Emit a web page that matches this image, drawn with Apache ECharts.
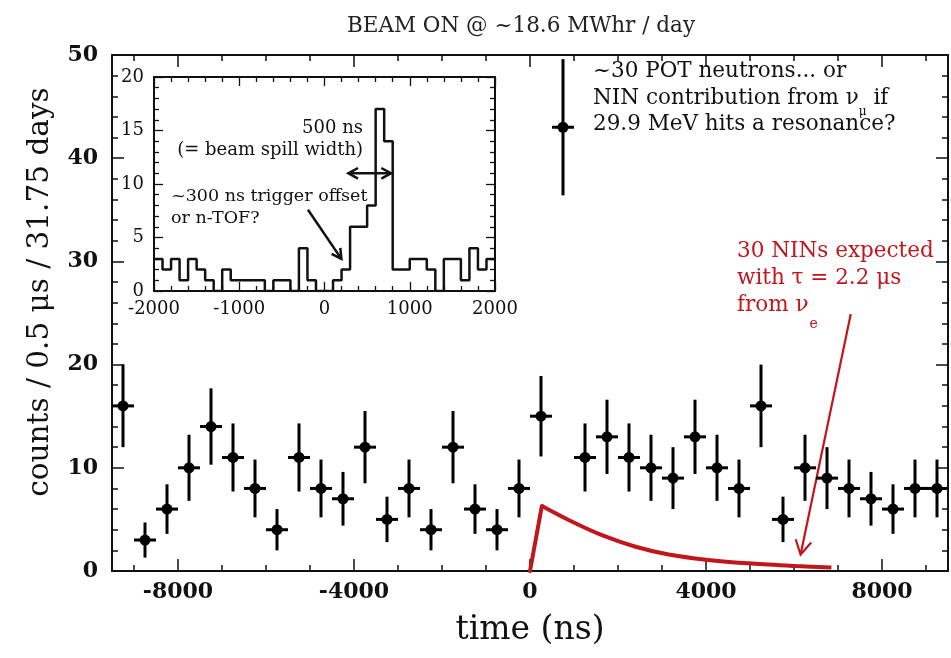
<!DOCTYPE html>
<html><head><meta charset="utf-8">
<script src="https://cdn.jsdelivr.net/npm/echarts@6/dist/echarts.min.js"></script>
<style>html,body{margin:0;padding:0;background:#fff}#c{width:951px;height:658px}</style>
</head><body><div id="c"></div>
<script>
// ---- main histogram (0.5 us bins) ----
const binCenters = [-9250,-8750,-8250,-7750,-7250,-6750,-6250,-5750,-5250,-4750,-4250,-3750,-3250,-2750,-2250,-1750,-1250,-750,-250,250,750,1250,1750,2250,2750,3250,3750,4250,4750,5250,5750,6250,6750,7250,7750,8250,8750,9250];
const counts     = [16,3,6,10,14,11,8,4,11,8,7,12,5,8,4,12,6,4,8,15,43,11,13,11,10,9,13,10,8,16,5,10,9,8,7,6,8,8];
const errors     = [4.0,1.7,2.4,3.2,3.7,3.3,2.8,2.0,3.3,2.8,2.6,3.5,2.2,2.8,2.0,3.5,2.4,2.0,2.8,3.9,6.6,3.3,3.6,3.3,3.2,3.0,3.6,3.2,2.8,4.0,2.2,3.2,3.0,2.8,2.6,2.4,2.8,2.8];
const binHalfWidth = 250;
// ---- expected NIN curve ----
const curveT = [0,270,900,1650,2400,3150,4000,5050,6050,6850];
const curveY = [0,6.3,4.9,3.45,2.35,1.6,1.1,0.72,0.48,0.33];
// ---- inset histogram (100 ns bins) ----
const insetBinStarts = [-2000,-1900,-1800,-1700,-1600,-1500,-1400,-1300,-1200,-1100,-1000,-900,-800,-700,-600,-500,-400,-300,-200,-100,0,100,200,300,400,500,600,700,800,900,1000,1100,1200,1300,1400,1500,1600,1700,1800,1900];
const insetCounts    = [3,2,3,1,3,2,1,0,2,1,1,1,1,0,1,1,0,4,1,0,0,1,2,6,6,8,17,14,2,2,3,3,2,0,3,3,1,4,2,3];
const insetEnd = 2000;
// ---- tick values ----
const mainXMajor = [-8000,-4000,0,4000,8000];
const mainXMinor = [-9000,-8000,-7000,-6000,-5000,-4000,-3000,-2000,-1000,0,1000,2000,3000,4000,5000,6000,7000,8000,9000];

const F = 'DejaVu Serif';
const K = '#111';
const RED = '#c0161c';

function xAx(o){return Object.assign({type:'value',gridIndex:0,position:'bottom',min:-9500,max:9500,
  axisLine:{show:true,onZero:false,lineStyle:{color:K,width:2}},
  axisTick:{show:true,inside:true,length:12,customValues:mainXMajor,lineStyle:{color:K,width:1.5}},
  axisLabel:{show:false},splitLine:{show:false}},o);}
function yAx(o){return Object.assign({type:'value',gridIndex:0,position:'left',min:0,max:50,interval:10,
  axisLine:{show:true,onZero:false,lineStyle:{color:K,width:2}},
  axisTick:{show:true,inside:true,length:12,lineStyle:{color:K,width:1.5}},
  minorTick:{show:true,splitNumber:5,length:6,lineStyle:{color:K,width:1.5}},
  axisLabel:{show:false},splitLine:{show:false},minorSplitLine:{show:false}},o);}
function ixAx(o){return Object.assign({type:'value',gridIndex:1,position:'bottom',min:-2000,max:2000,interval:1000,
  axisLine:{show:true,onZero:false,lineStyle:{color:K,width:2}},
  axisTick:{show:true,inside:true,length:9,lineStyle:{color:K,width:1.3}},
  minorTick:{show:true,splitNumber:5,length:5,lineStyle:{color:K,width:1.3}},
  axisLabel:{show:false},splitLine:{show:false},minorSplitLine:{show:false}},o);}
function iyAx(o){return Object.assign({type:'value',gridIndex:1,position:'left',min:0,max:20,interval:5,
  axisLine:{show:true,onZero:false,lineStyle:{color:K,width:2}},
  axisTick:{show:true,inside:true,length:9,lineStyle:{color:K,width:1.3}},
  minorTick:{show:true,splitNumber:5,length:5,lineStyle:{color:K,width:1.3}},
  axisLabel:{show:false},splitLine:{show:false},minorSplitLine:{show:false}},o);}

function renderPoint(params, api){
  const x=api.value(0), y=api.value(1), e=api.value(2);
  const c=api.coord([x,y]), t=api.coord([x,y+e]), b=api.coord([x,y-e]);
  const l=api.coord([x-binHalfWidth,y]), r=api.coord([x+binHalfWidth,y]);
  const st={stroke:'#000',lineWidth:3};
  return {type:'group',children:[
    {type:'line',shape:{x1:t[0],y1:t[1],x2:b[0],y2:b[1]},style:st},
    {type:'line',shape:{x1:l[0],y1:l[1],x2:r[0],y2:r[1]},style:st},
    {type:'circle',shape:{cx:c[0],cy:c[1],r:5.5},style:{fill:'#000'}}
  ]};
}
function makeArrow(color,width,L,ang){
  return function(params,api){
    const p1=api.coord([api.value(0),api.value(1)]), p2=api.coord([api.value(2),api.value(3)]);
    const both=api.value(4);
    const st={stroke:color,lineWidth:width,fill:null,lineJoin:'miter'};
    const head=(tip,from)=>{const a=Math.atan2(from[1]-tip[1],from[0]-tip[0]);
      return {type:'polyline',shape:{points:[[tip[0]+L*Math.cos(a+ang),tip[1]+L*Math.sin(a+ang)],tip,[tip[0]+L*Math.cos(a-ang),tip[1]+L*Math.sin(a-ang)]]},style:st};};
    const ch=[{type:'line',shape:{x1:p1[0],y1:p1[1],x2:p2[0],y2:p2[1]},style:st},head(p2,p1)];
    if(both) ch.push(head(p1,p2));
    return {type:'group',children:ch};
  };
}

const pointData = binCenters.map((t,i)=>[t,counts[i],errors[i]]);
const riseData = curveT.slice(0,2).map((t,i)=>[t,curveY[i]]);
const decayData = curveT.slice(1).map((t,i)=>[t,curveY[i+1]]);
const histData = insetBinStarts.map((t,i)=>[t,insetCounts[i]]).concat([[insetEnd,insetCounts[insetCounts.length-1]]]);

function txt(x,y,text,size,color,align,rich){
  const s={text:text,x:0,y:0,fill:color,font:size+'px "'+F+'"',textAlign:align||'left',textVerticalAlign:'top'};
  if(rich) s.rich=rich;
  return {type:'text',x:x,y:y,z:100,style:s};
}
const richK={a:{fontFamily:F,fontSize:21.5,lineHeight:26,verticalAlign:'top',color:K},
             s:{fontFamily:F,fontSize:12,lineHeight:12,verticalAlign:'top',padding:[19,0,0,0],color:K}};
const richR={a:{fontFamily:F,fontSize:21.5,lineHeight:27,verticalAlign:'top',color:RED},
             s:{fontFamily:F,fontSize:14,lineHeight:14,verticalAlign:'top',padding:[23,0,0,1],color:RED}};

const option={
  animation:false,
  backgroundColor:'#fff',
  title:{text:'BEAM ON @ ~18.6 MWhr / day',left:516,top:10,textAlign:'center',
    textStyle:{fontFamily:F,fontSize:21.5,fontWeight:'normal',color:'#222'}},
  grid:[
    {left:112,top:55,width:836,height:516,show:false},
    {left:154,top:77,width:341,height:214,show:true,backgroundColor:'#fff',borderWidth:0}
  ],
  xAxis:[
    xAx({name:'time (ns)',nameLocation:'middle',nameGap:43,
      nameTextStyle:{fontFamily:F,fontSize:33,color:K},
      axisLabel:{show:true,customValues:mainXMajor,formatter:v=>String(v),margin:10,fontFamily:F,fontSize:22,fontWeight:'bold',color:K}}),
    xAx({axisLine:{show:false,onZero:false},axisTick:{show:true,inside:true,length:6,customValues:mainXMinor,lineStyle:{color:K,width:1.5}}}),
    xAx({position:'top'}),
    xAx({position:'top',axisLine:{show:false,onZero:false},axisTick:{show:true,inside:true,length:6,customValues:mainXMinor,lineStyle:{color:K,width:1.5}}}),
    ixAx({axisLabel:{show:true,formatter:v=>String(v),margin:9,fontFamily:F,fontSize:18,color:K}}),
    ixAx({position:'top'})
  ],
  yAxis:[
    yAx({axisLabel:{show:true,margin:14,fontFamily:F,fontSize:22,fontWeight:'bold',color:K}}),
    yAx({position:'right'}),
    iyAx({axisLabel:{show:true,margin:10,fontFamily:F,fontSize:18,color:K}}),
    iyAx({position:'right'})
  ],
  series:[
    {type:'line',xAxisIndex:4,yAxisIndex:2,data:histData,step:'end',symbol:'none',
      lineStyle:{color:K,width:2.5},z:3,silent:true},
    {type:'custom',xAxisIndex:4,yAxisIndex:2,z:4,silent:true,renderItem:makeArrow(K,2.5,11,0.5),
      data:[[-194,7.6,198,3.0,0],[280,11,780,11,1]]},
    {type:'line',xAxisIndex:0,yAxisIndex:0,data:riseData,symbol:'none',lineStyle:{color:RED,width:4,cap:'round'},z:3,silent:true},
    {type:'line',xAxisIndex:0,yAxisIndex:0,data:decayData,symbol:'none',smooth:0.3,lineStyle:{color:RED,width:4,cap:'butt'},z:3,silent:true},
    {type:'custom',xAxisIndex:0,yAxisIndex:0,z:4,silent:true,renderItem:makeArrow(RED,2.2,16,0.52),
      data:[[7290,24.9,6150,1.6,0]]},
    {type:'custom',xAxisIndex:0,yAxisIndex:0,z:5,silent:true,renderItem:renderPoint,data:pointData}
  ],
  graphic:[
    {type:'text',x:40,y:292,rotation:Math.PI/2,z:100,
      style:{text:'counts / 0.5 μs / 31.75 days',fill:K,font:'29.5px "'+F+'"',textAlign:'center',textVerticalAlign:'middle'}},
    txt(593,60,'{a|~30 POT neutrons... or}',21.5,K,'left',richK),
    txt(593,87,'{a|NIN contribution from ν}{s|μ}{a| if}',21.5,K,'left',richK),
    txt(593,113,'{a|29.9 MeV hits a resonance?}',21.5,K,'left',richK),
    txt(737,240,'{a|30 NINs expected}',21.5,RED,'left',richR),
    txt(737,267,'{a|with τ = 2.2 μs}',21.5,RED,'left',richR),
    txt(737,294,'{a|from ν}{s|e}',21.5,RED,'left',richR),
    txt(363,119,'500 ns',18,K,'right'),
    txt(363,141,'(= beam spill width)',18,K,'right'),
    txt(171,187,'~300 ns trigger offset',17.5,K,'left'),
    txt(171,209,'or n-TOF?',17.5,K,'left')
  ]
};
const chart=echarts.init(document.getElementById('c'));
chart.setOption(option);
</script></body></html>
